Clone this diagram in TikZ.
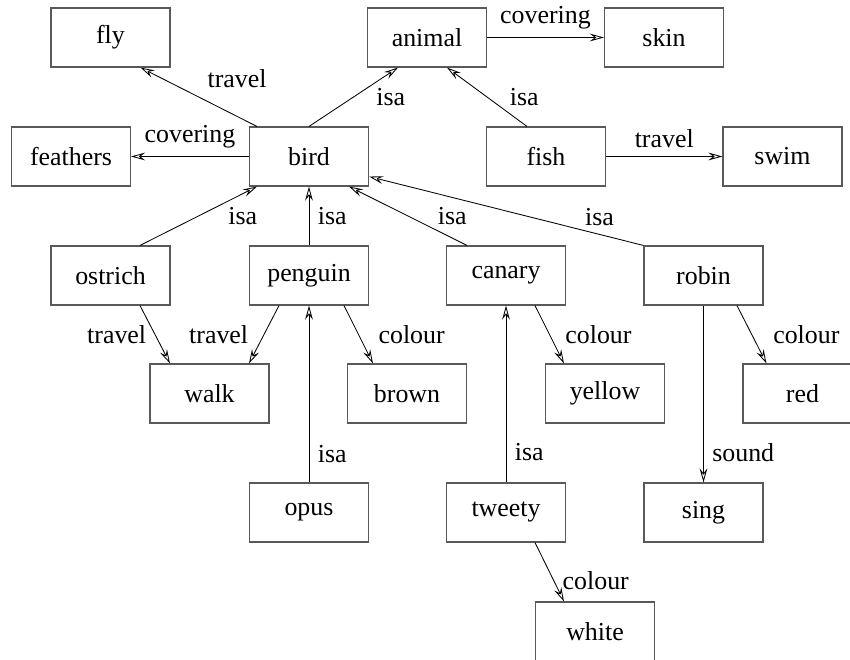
\documentclass[tikz,border=0pt]{standalone}
\usepackage{fontspec}
\setmainfont{Liberation Serif}
\usetikzlibrary{arrows.meta,calc}

\begin{document}
\begin{tikzpicture}[x=0.025cm,y=-0.025cm]
% Define the node styles
\tikzstyle{concept} = [draw=black!65, line width=0.8pt, rectangle, minimum width=2.975cm, minimum height=1.475cm, inner sep=0pt, font=\fontsize{18.4}{22}\selectfont]
\tikzstyle{link} = [-{Stealth[open, length=10pt, width=5.5pt, inset=3.5pt]}, line width=0.6pt]
\tikzstyle{tag} = [font=\fontsize{18.4}{22}\selectfont, inner sep=6pt]

\useasboundingbox (0,0) rectangle (850,659);

% Define the nodes
\node[concept] (fly) at (110.5, 37.5) {fly};
\node[concept] (animal) at (427, 37.5) {animal};
\node[concept] (skin) at (664, 37.5) {skin};
\node[concept] (feathers) at (71, 156.5) {feathers};
\node[concept] (bird) at (309, 156.5) {bird};
\node[concept] (fish) at (546, 156.5) {fish};
\node[concept] (swim) at (782.5, 156.5) {swim};
\node[concept] (ostrich) at (110.5, 275.5) {ostrich};
\node[concept] (penguin) at (309, 275.5) {penguin};
\node[concept] (canary) at (506, 275.5) {canary};
\node[concept] (robin) at (703.5, 275.5) {robin};
\node[concept] (walk) at (209.5, 393.5) {walk};
\node[concept] (brown) at (407, 393.5) {brown};
\node[concept] (yellow) at (605, 393.5) {yellow};
\node[concept] (red) at (802.5, 393.5) {red};
\node[concept] (opus) at (309, 512.5) {opus};
\node[concept] (tweety) at (506, 512.5) {tweety};
\node[concept] (sing) at (703.5, 512.5) {sing};
\node[concept] (white) at (595, 631.5) {white};

% Define the relations
\draw[link] ($(bird.north west)+(8,0)$) -- node[tag, above right] {travel} ($(fly.south)+(30,0)$);
\draw[link] (bird.west) -- node[tag, above] {covering} (feathers.east);
\draw[link] (bird.north) -- node[tag, right, xshift=10pt] {isa} ($(animal.south)+(-29,0)$);
\draw[link] (animal.east) -- node[tag, above] {covering} (skin.west);
\draw[link] ($(fish.north)+(-19,0)$) -- node[tag, right, xshift=10pt] {isa} ($(animal.south)+(20,0)$);
\draw[link] (fish.east) -- node[tag, above] {travel} (swim.west);

\draw[link] ($(ostrich.north)+(29.5,0)$) -- node[tag, right, xshift=15pt] {isa} ($(bird.south west)+(8,0)$);
\draw[link] (penguin.north) -- node[tag, right] {isa} (bird.south);
\draw[link] ($(canary.north)+(-39,0)$) -- node[tag, right, xshift=15pt] {isa} ($(bird.south)+(40,0)$);
\draw[link] (robin.north west) -- node[tag, pos=0.16, above] {isa} ($(bird.south east)+(0,-10)$);

\draw[link] ($(ostrich.south)+(29.5,0)$) -- node[tag, left] {travel} ($(walk.north)+(-39.5,0)$);
\draw[link] ($(penguin.south)+(-30,0)$) -- node[tag, left, xshift=-5pt] {travel} ($(walk.north)+(39.5,0)$);
\draw[link] ($(penguin.south)+(35,0)$) -- node[tag, right, xshift=8pt] {colour} ($(brown.north)+(-34,0)$);
\draw[link] (opus.north) -- node[tag, pos=0.16, right] {isa} (penguin.south);
\draw[link] ($(canary.south)+(29,0)$) -- node[tag, right, xshift=5pt] {colour} ($(yellow.north)+(-41,0)$);
\draw[link] (tweety.north) -- node[tag, pos=0.17, right] {isa} (canary.south);
\draw[link] (robin.south) -- node[tag, pos=0.83, right] {sound} (sing.north);
\draw[link] ($(robin.south)+(33.5,0)$) -- node[tag, right, xshift=9pt] {colour} ($(red.north)+(-36,0)$);
\draw[link] ($(tweety.south)+(29,0)$) -- node[tag, pos=0.65, right] {colour} ($(white.north)+(-31,0)$);

\end{tikzpicture}
\end{document}
